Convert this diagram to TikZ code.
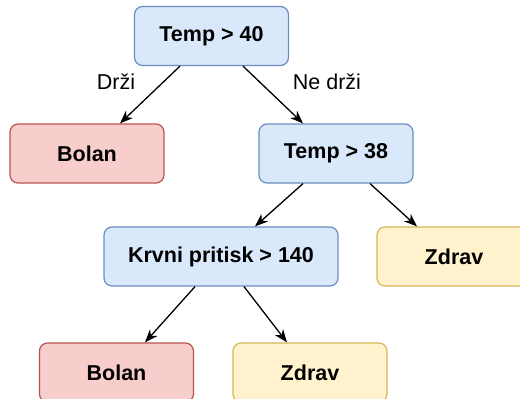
\documentclass[tikz,border=0pt]{standalone}
\usepackage{fontspec}
\setmainfont{Liberation Sans}
\usetikzlibrary{arrows.meta,calc}

\definecolor{blueFill}{HTML}{DAE8FC}
\definecolor{blueLine}{HTML}{6C8EBF}
\definecolor{redFill}{HTML}{F8CECC}
\definecolor{redLine}{HTML}{B85450}
\definecolor{yellowFill}{HTML}{FFF2CC}
\definecolor{yellowLine}{HTML}{D6B656}

\tikzset{
  box/.style={rectangle, rounded corners=8pt, line width=1.2pt,
    minimum width=154pt, minimum height=59pt, inner sep=0pt,
    font=\fontsize{21.5}{26}\selectfont\bfseries},
  test/.style={box, fill=blueFill, draw=blueLine},
  sick/.style={box, fill=redFill, draw=redLine},
  well/.style={box, fill=yellowFill, draw=yellowLine},
  link/.style={line width=1.3pt, -{Stealth[length=13pt,width=10pt,inset=4pt]}},
  branch/.style={font=\fontsize{21.5}{26}\selectfont},
}

\begin{document}
\begin{tikzpicture}[x=1pt, y=-1pt]
  \useasboundingbox (0,0) rectangle (520,399);
  \clip (0,0) rectangle (520,399);

  % decision nodes
  \node[test] (t40) at (211.5,36) {Temp > 40};
  \node[test] (t38) at (336,153.5) {Temp > 38};
  \node[test, minimum width=234pt] (bp) at (221,256.5) {Krvni pritisk > 140};

  % leaves
  \node[sick] (b1) at (87,153.5) {Bolan};
  \node[well] (z1) at (454,256.5) {Zdrav};
  \node[sick] (b2) at (116.5,372.5) {Bolan};
  \node[well] (z2) at (310,372.5) {Zdrav};

  % branches
  \draw[link] ($(t40.south)+(-31.5,0)$) -- ($(b1.north)+(33,0)$);
  \draw[link] ($(t40.south)+(31.5,0)$) -- ($(t38.north)+(-33,0)$);
  \draw[link] ($(t38.south)+(-33,0)$) -- ($(bp.north)+(34,0)$);
  \draw[link] ($(t38.south)+(34,0)$) -- ($(z1.north)+(-37,0)$);
  \draw[link] ($(bp.south)+(-26,0)$) -- ($(b2.north)+(28.5,0)$);
  \draw[link] ($(bp.south)+(23,0)$) -- ($(z2.north)+(-23,0)$);

  % branch labels
  \node[branch] (yes) at (116,82) {Drži};
  \node[branch] (no) at (327,82) {Ne drži};
\end{tikzpicture}
\end{document}
